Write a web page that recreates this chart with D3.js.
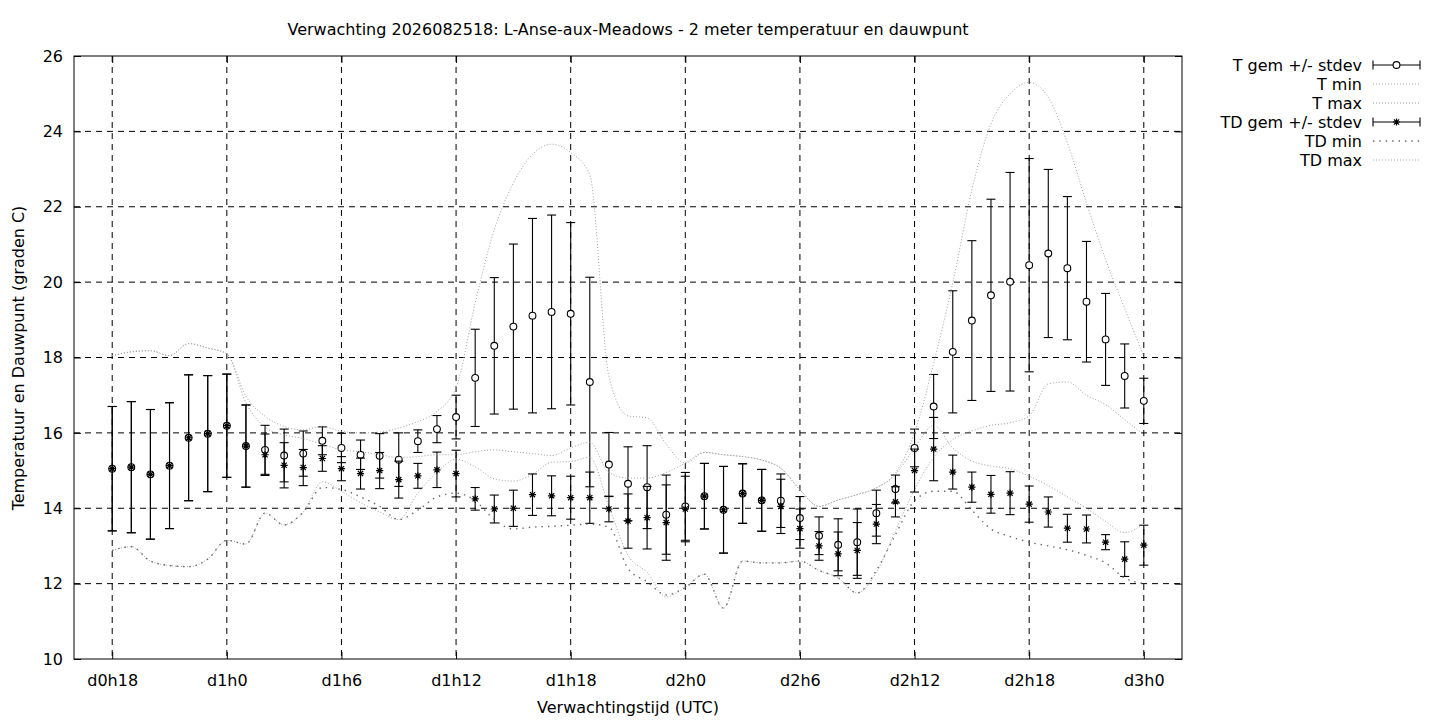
<!DOCTYPE html>
<html>
<head>
<meta charset="utf-8">
<script src="https://cdn.jsdelivr.net/npm/d3@7"></script>
<style>
  body { margin: 0; background: #fff; }
  text { font-family: "DejaVu Sans", sans-serif; fill: #000; }
</style>
</head>
<body>
<svg id="chart"></svg>
<script>
var width = 1440;
var height = 720;

// forecast hours (UTC offset from run)
var hours = [18,19,20,21,22,23,24,25,26,27,28,29,30,31,32,33,34,35,36,37,38,39,40,41,42,43,44,45,
  46,47,48,49,50,51,52,53,54,55,56,57,58,59,60,61,62,63,64,65,66,67,68,69,70,71,72];
var tickHours = [18,24,30,36,42,48,54,60,66,72];
var tickLabels = ["d0h18","d1h0","d1h6","d1h12","d1h18","d2h0","d2h6","d2h12","d2h18","d3h0"];

var tMean = [15.05,15.09,14.9,15.13,15.87,15.98,16.19,15.65,15.55,15.40,15.45,15.79,15.60,15.42,15.39,15.29,
  15.78,16.10,16.42,17.46,18.31,18.82,19.11,19.21,19.16,17.35,15.16,14.65,14.56,13.83,14.05,14.32,13.96,14.39,
  14.21,14.20,13.74,13.27,13.03,13.10,13.87,14.51,15.60,16.70,18.15,18.98,19.65,20.01,20.45,20.76,20.37,19.48,
  18.48,17.51,16.85];
var tStd = [1.65,1.74,1.72,1.67,1.67,1.54,1.37,1.09,0.65,0.70,0.60,0.37,0.39,0.39,0.59,0.71,0.30,0.36,0.58,
  1.29,1.81,2.19,2.58,2.57,2.42,2.78,0.85,0.98,1.10,1.05,0.90,0.87,1.15,0.79,0.82,0.71,0.57,0.50,0.69,0.88,
  0.61,0.37,0.50,0.85,1.62,2.12,2.55,2.90,2.83,2.23,1.90,1.60,1.22,0.85,0.60];
var tMin = [12.88,12.98,12.6,12.48,12.45,12.65,13.15,13.05,13.87,13.56,13.9,14.7,14.45,14.15,13.9,13.7,14.4,
  14.95,15.3,15.1,14.78,14.72,14.9,15.22,15.24,15.35,14.05,12.75,12.3,11.65,11.9,12.25,11.35,12.6,12.55,12.55,
  12.6,12.35,12.15,11.75,12.3,13.4,14.5,15.35,15.82,16.05,16.2,16.27,16.45,17.3,17.35,17.0,16.75,16.35,15.95];
var tMax = [18.05,18.15,18.18,18.05,18.37,18.25,18.1,16.97,16.44,16.17,16.08,16.17,16.04,16.0,16.02,16.13,
  16.3,16.57,17.2,19.45,21.39,22.63,23.39,23.66,23.44,22.85,17.5,16.45,16.4,15.7,15.2,15.48,15.42,15.37,15.28,
  15.06,14.49,14.05,14.22,14.36,14.54,14.93,16.0,17.85,19.98,22.45,24.2,25.0,25.3,24.9,23.7,22.1,20.6,19.3,18.03];

var tdMean = [15.05,15.09,14.9,15.13,15.87,15.98,16.19,15.65,15.42,15.14,15.08,15.32,15.05,14.92,15.0,14.76,
  14.86,15.02,14.92,14.25,13.98,14.0,14.36,14.33,14.28,14.28,13.98,13.66,13.75,13.62,13.98,14.32,13.96,14.39,
  14.21,14.05,13.46,13.0,12.79,12.88,13.58,14.17,15.0,15.57,14.96,14.56,14.37,14.4,14.11,13.9,13.47,13.45,
  13.1,12.65,13.02];
var tdStd = [1.65,1.74,1.72,1.67,1.67,1.54,1.37,1.09,0.55,0.60,0.48,0.34,0.32,0.41,0.48,0.49,0.33,0.47,0.62,
  0.30,0.37,0.48,0.55,0.53,0.57,0.68,0.34,0.72,0.83,1.0,0.87,0.87,1.15,0.79,0.82,0.72,0.52,0.38,0.58,0.74,
  0.52,0.40,0.57,0.84,0.45,0.40,0.50,0.57,0.48,0.40,0.37,0.37,0.20,0.46,0.53];
var tdMin = [12.88,12.98,12.6,12.48,12.45,12.65,13.15,13.05,13.87,13.56,13.9,14.55,14.5,14.3,14.05,13.7,13.95,
  14.3,14.4,14.2,13.7,13.45,13.5,13.52,13.55,13.58,13.5,12.4,12.05,11.7,11.9,12.25,11.35,12.6,12.55,12.55,
  12.6,12.35,12.15,11.75,12.35,13.3,14.2,14.45,14.45,13.95,13.45,13.25,13.1,13.0,12.9,12.75,12.55,12.15,12.0];
var tdMax = [18.05,18.15,18.18,18.05,18.37,18.25,18.1,16.8,16.15,15.95,15.85,15.7,15.55,15.5,15.42,15.35,
  15.37,15.42,15.42,15.5,15.55,15.5,15.45,15.4,15.6,15.75,14.95,14.8,14.8,14.95,15.2,15.48,15.42,15.37,15.28,
  15.06,14.49,14.05,14.22,14.36,14.54,14.9,15.6,16.2,15.6,15.25,15.12,15.05,14.85,14.6,14.3,14.0,13.65,13.35,13.6];

var yTicks = [10,12,14,16,18,20,22,24,26];

var margin = {left: 74, right: 1182, top: 56, bottom: 659};
var fontSize = 16;

var svg = d3.select("#chart").attr("width", width).attr("height", height);

var x = d3.scaleLinear().domain([16, 74]).range([margin.left, margin.right]);
var y = d3.scaleLinear().domain([10, 26]).range([margin.bottom, margin.top]);

// grid
var grid = svg.append("g").attr("class", "grid");
grid.selectAll("line.vg").data(tickHours).enter().append("line")
  .attr("x1", function(d){ return x(d); }).attr("x2", function(d){ return x(d); })
  .attr("y1", margin.top).attr("y2", margin.bottom)
  .attr("stroke", "#000").attr("stroke-width", 1).attr("stroke-dasharray", "6,5");
grid.selectAll("line.hg").data(yTicks.slice(1, -1)).enter().append("line")
  .attr("x1", margin.left).attr("x2", margin.right)
  .attr("y1", function(d){ return y(d); }).attr("y2", function(d){ return y(d); })
  .attr("stroke", "#000").attr("stroke-width", 1).attr("stroke-dasharray", "6,5");

// axes
var xAxis = d3.axisBottom(x).tickValues(tickHours)
  .tickFormat(function(d, i){ return tickLabels[i]; })
  .tickSizeInner(-7).tickSizeOuter(0).tickPadding(16);
svg.append("g").attr("transform", "translate(0," + margin.bottom + ")").call(xAxis)
  .call(function(g){ g.select(".domain").remove(); })
  .selectAll("text").attr("font-size", fontSize).attr("font-family", "DejaVu Sans");

var yAxis = d3.axisLeft(y).tickValues(yTicks).tickSizeInner(-7).tickSizeOuter(0).tickPadding(11);
svg.append("g").attr("transform", "translate(" + margin.left + ",0)").call(yAxis)
  .call(function(g){ g.select(".domain").remove(); })
  .selectAll("text").attr("font-size", fontSize).attr("font-family", "DejaVu Sans");

// mirrored ticks
svg.append("g").attr("transform", "translate(0," + margin.top + ")")
  .call(d3.axisTop(x).tickValues(tickHours).tickSize(-7).tickFormat(""))
  .call(function(g){ g.select(".domain").remove(); });
svg.append("g").attr("transform", "translate(" + margin.right + ",0)")
  .call(d3.axisRight(y).tickValues(yTicks).tickSize(-7).tickFormat(""))
  .call(function(g){ g.select(".domain").remove(); });

svg.append("rect")
  .attr("x", margin.left).attr("y", margin.top)
  .attr("width", margin.right - margin.left).attr("height", margin.bottom - margin.top)
  .attr("fill", "none").attr("stroke", "#000").attr("stroke-width", 1);

// titles
svg.append("text").attr("x", 628).attr("y", 35).attr("text-anchor", "middle")
  .attr("font-size", fontSize).text("Verwachting 2026082518: L-Anse-aux-Meadows - 2 meter temperatuur en dauwpunt");
svg.append("text").attr("x", 628).attr("y", 713).attr("text-anchor", "middle")
  .attr("font-size", fontSize).text("Verwachtingstijd (UTC)");
svg.append("text").attr("transform", "translate(24,358) rotate(-90)").attr("text-anchor", "middle")
  .attr("font-size", fontSize).text("Temperatuur en Dauwpunt (graden C)");

var plot = svg.append("g").attr("class", "plot");

function rows(mean, std){
  return hours.map(function(h, i){ return {h: h, m: mean[i], s: std[i]}; });
}

function drawBars(data, cls){
  var g = plot.append("g").attr("class", cls)
    .attr("stroke", "#000").attr("stroke-width", 1.1);
  g.selectAll("line.v").data(data).enter().append("line")
    .attr("x1", function(d){ return x(d.h); }).attr("x2", function(d){ return x(d.h); })
    .attr("y1", function(d){ return y(d.m + d.s); }).attr("y2", function(d){ return y(d.m - d.s); });
  g.selectAll("line.t").data(data).enter().append("line")
    .attr("x1", function(d){ return x(d.h) - 4.5; }).attr("x2", function(d){ return x(d.h) + 4.5; })
    .attr("y1", function(d){ return y(d.m + d.s); }).attr("y2", function(d){ return y(d.m + d.s); });
  g.selectAll("line.b").data(data).enter().append("line")
    .attr("x1", function(d){ return x(d.h) - 4.5; }).attr("x2", function(d){ return x(d.h) + 4.5; })
    .attr("y1", function(d){ return y(d.m - d.s); }).attr("y2", function(d){ return y(d.m - d.s); });
  return g;
}

function circleMark(g, cx, cy){
  g.append("circle").attr("cx", cx).attr("cy", cy).attr("r", 3.4)
    .attr("fill", "#fff").attr("stroke", "#000").attr("stroke-width", 1.1);
}
function starMark(g, cx, cy){
  var r = 3.6, q = 2.6;
  var p = "M" + (cx - r) + "," + cy + "H" + (cx + r) +
    "M" + cx + "," + (cy - r) + "V" + (cy + r) +
    "M" + (cx - q) + "," + (cy - q) + "L" + (cx + q) + "," + (cy + q) +
    "M" + (cx - q) + "," + (cy + q) + "L" + (cx + q) + "," + (cy - q);
  g.append("path").attr("d", p).attr("fill", "none").attr("stroke", "#000").attr("stroke-width", 1.2);
}

var lineGen = function(vals){
  return d3.line()
    .x(function(d, i){ return x(hours[i]); })
    .y(function(d){ return y(d); })
    .curve(d3.curveMonotoneX)(vals);
};

var fineStyle = {stroke: "#a0a0a0", width: 1, dash: "1,2"};
var coarseStyle = {stroke: "#666", width: 1.4, dash: "1.4,5"};

function drawLine(vals, st){
  plot.append("path").attr("d", lineGen(vals))
    .attr("fill", "none").attr("stroke", st.stroke)
    .attr("stroke-width", st.width).attr("stroke-dasharray", st.dash);
}

// T gem
var tData = rows(tMean, tStd);
var tg = drawBars(tData, "tbars");
tData.forEach(function(d){ circleMark(tg, x(d.h), y(d.m)); });
drawLine(tMin, fineStyle);
drawLine(tMax, fineStyle);

// TD gem
var tdData = rows(tdMean, tdStd);
var tdg = drawBars(tdData, "tdbars");
tdData.forEach(function(d){ starMark(tdg, x(d.h), y(d.m)); });
drawLine(tdMin, coarseStyle);
drawLine(tdMax, fineStyle);

// legend
var legend = svg.append("g").attr("class", "legend");
var legItems = [
  {label: "T gem +/- stdev", type: "bar", mark: "circle"},
  {label: "T min", type: "line", st: fineStyle},
  {label: "T max", type: "line", st: fineStyle},
  {label: "TD gem +/- stdev", type: "bar", mark: "star"},
  {label: "TD min", type: "line", st: coarseStyle},
  {label: "TD max", type: "line", st: fineStyle}
];
var lx1 = 1373, lx2 = 1420;
legItems.forEach(function(it, i){
  var cy = 65 + i * 19;
  legend.append("text").attr("x", 1362).attr("y", cy + 5.5).attr("text-anchor", "end")
    .attr("font-size", fontSize).text(it.label);
  if (it.type === "bar") {
    var g = legend.append("g").attr("stroke", "#000").attr("stroke-width", 1.1);
    g.append("line").attr("x1", lx1).attr("x2", lx2).attr("y1", cy).attr("y2", cy);
    g.append("line").attr("x1", lx1).attr("x2", lx1).attr("y1", cy - 4.5).attr("y2", cy + 4.5);
    g.append("line").attr("x1", lx2).attr("x2", lx2).attr("y1", cy - 4.5).attr("y2", cy + 4.5);
    if (it.mark === "circle") circleMark(g, (lx1 + lx2) / 2, cy);
    else starMark(g, (lx1 + lx2) / 2, cy);
  } else {
    legend.append("line").attr("x1", lx1).attr("x2", lx2).attr("y1", cy).attr("y2", cy)
      .attr("stroke", it.st.stroke).attr("stroke-width", it.st.width)
      .attr("stroke-dasharray", it.st.dash);
  }
});
</script>
</body>
</html>
